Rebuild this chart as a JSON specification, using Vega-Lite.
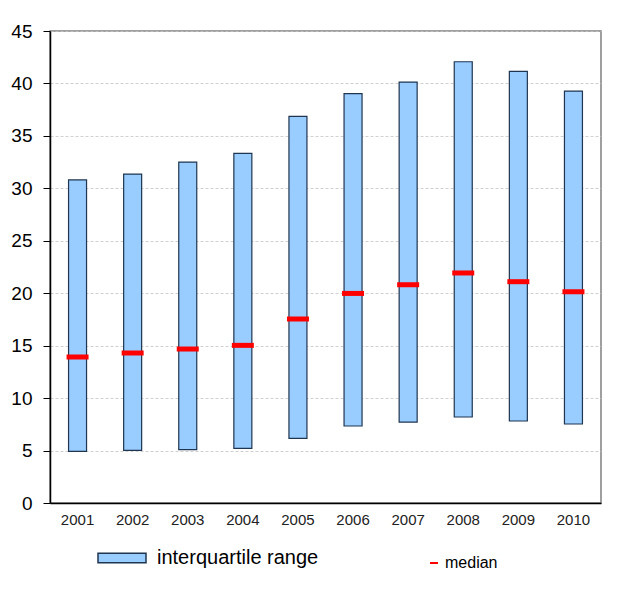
{
  "$schema": "https://vega.github.io/schema/vega-lite/v6.json",
  "width": 551,
  "height": 472,
  "autosize": "none",
  "padding": {"left": 50, "top": 31, "right": 24, "bottom": 86},
  "background": "white",
  "config": {
    "font": "Liberation Sans",
    "view": {"stroke": "#808080", "strokeWidth": 1.5},
    "axis": {"labelFont": "Liberation Sans", "labelColor": "#000000"}
  },
  "data": {
    "values": [
      {"year": "2001", "q1": 4.92, "q3": 30.8, "median": 13.92},
      {"year": "2002", "q1": 5.01, "q3": 31.36, "median": 14.3},
      {"year": "2003", "q1": 5.08, "q3": 32.5, "median": 14.68},
      {"year": "2004", "q1": 5.2, "q3": 33.33, "median": 15.03},
      {"year": "2005", "q1": 6.16, "q3": 36.86, "median": 17.54},
      {"year": "2006", "q1": 7.34, "q3": 39.02, "median": 19.98},
      {"year": "2007", "q1": 7.72, "q3": 40.13, "median": 20.81},
      {"year": "2008", "q1": 8.2, "q3": 42.07, "median": 21.93},
      {"year": "2009", "q1": 7.82, "q3": 41.15, "median": 21.1},
      {"year": "2010", "q1": 7.53, "q3": 39.27, "median": 20.14}
    ]
  },
  "encoding": {
    "x": {
      "field": "year",
      "type": "nominal",
      "scale": {"paddingInner": 0, "paddingOuter": 0},
      "axis": {
        "title": null,
        "labelAngle": 0,
        "ticks": false,
        "labelFontSize": 15,
        "labelColor": "#222222",
        "labelPadding": 9,
        "domainColor": "#000000",
        "domainWidth": 1.5
      }
    }
  },
  "layer": [
    {
      "mark": {"type": "bar", "size": 18, "stroke": "#1F3550", "strokeWidth": 1.2},
      "encoding": {
        "y": {
          "field": "q1",
          "type": "quantitative",
          "scale": {"domain": [0, 45], "nice": false},
          "axis": {
            "title": null,
            "values": [0, 5, 10, 15, 20, 25, 30, 35, 40, 45],
            "labelFontSize": 19,
            "labelPadding": 11,
            "tickSize": 7,
            "tickColor": "#000000",
            "domainColor": "#000000",
            "domainWidth": 1.5,
            "gridColor": "#c4c4c4",
            "gridDash": [3, 2],
            "gridWidth": 0.8
          }
        },
        "y2": {"field": "q3"},
        "fill": {
          "datum": "interquartile range",
          "scale": {"range": ["#99CCFF"]},
          "legend": {
            "title": null,
            "orient": "none",
            "legendX": 47,
            "legendY": 502,
            "symbolType": "M-1,-0.2H1V0.2H-1Z",
            "symbolSize": 2304,
            "symbolStrokeColor": "#1F3550",
            "symbolStrokeWidth": 1.5,
            "symbolFillColor": "#99CCFF",
            "labelFontSize": 20,
            "labelLimit": 400,
            "labelColor": "#000000",
            "labelOffset": 10
          }
        }
      }
    },
    {
      "mark": {"type": "tick", "thickness": 5, "size": 22, "opacity": 1},
      "encoding": {
        "y": {"field": "median", "type": "quantitative"},
        "color": {
          "datum": "median",
          "scale": {"range": ["#FF0000"]},
          "legend": {
            "title": null,
            "orient": "none",
            "legendX": 376,
            "legendY": 524,
            "symbolType": "M-1,-0.25H1V0.25H-1Z",
            "symbolSize": 64,
            "symbolStrokeWidth": 0,
            "symbolOpacity": 1,
            "labelFontSize": 16,
            "labelLimit": 200,
            "labelColor": "#000000",
            "labelOffset": 3
          }
        }
      }
    }
  ]
}
